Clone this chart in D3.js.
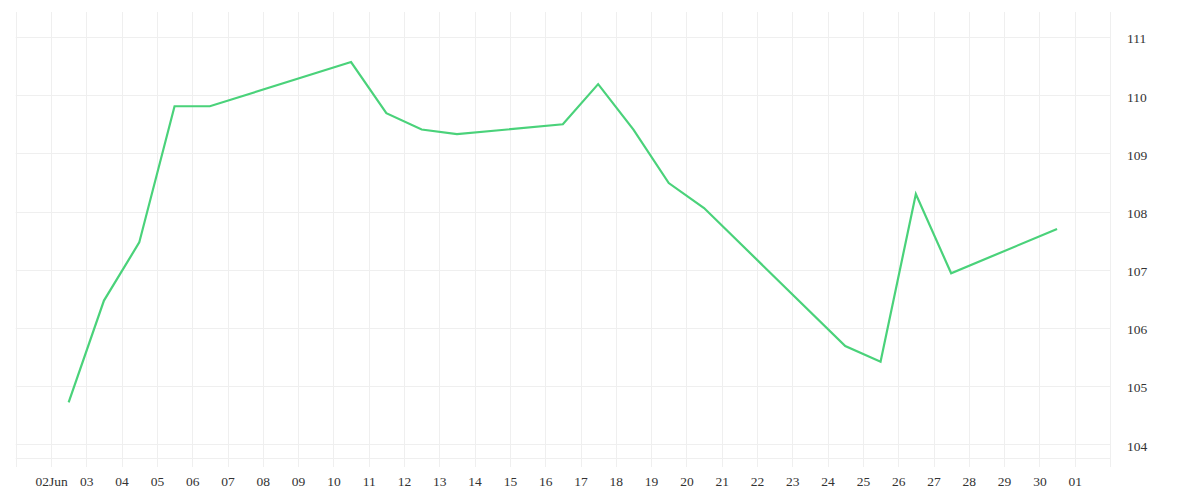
<!DOCTYPE html>
<html><head><meta charset="utf-8">
<script src="https://cdn.jsdelivr.net/npm/d3@7/dist/d3.min.js"></script>
<style>body{margin:0;background:#fff}svg{display:block}</style>
</head><body>
<svg id="c" width="1200" height="500"></svg>
<script>
const dates = ["2020-06-02T12:00","2020-06-03T12:00","2020-06-04T12:00","2020-06-05T12:00","2020-06-06T12:00",
  "2020-06-10T12:00","2020-06-11T12:00","2020-06-12T12:00","2020-06-13T12:00","2020-06-16T12:00",
  "2020-06-17T12:00","2020-06-18T12:00","2020-06-19T12:00","2020-06-20T12:00","2020-06-24T12:00",
  "2020-06-25T12:00","2020-06-26T12:00","2020-06-27T12:00","2020-06-30T12:00"];
const values = [104.72,106.47,107.47,109.81,109.81,110.57,109.69,109.41,109.33,109.50,
  110.19,109.41,108.49,108.06,105.69,105.42,108.30,106.94,107.70];
const yTicks = [104,105,106,107,108,109,110,111];

const parse = d3.isoParse;
const svg = d3.select("#c");
const L = 15.7, R = 1110, T = 12, B = 467;
const x = d3.scaleTime().domain([new Date(2020,5,1), new Date(2020,6,2)]).range([L, R]);
const y = d3.scaleLinear().domain([103.61, 111.43]).range([B, T]);

const grid = "#efefef";
const days = d3.timeDay.range(new Date(2020,5,1), new Date(2020,6,2,1));
svg.append("g").selectAll("line").data(days).join("line")
  .attr("x1", d => Math.round(x(d)) + 0.5).attr("x2", d => Math.round(x(d)) + 0.5)
  .attr("y1", T).attr("y2", B).attr("stroke", grid);
svg.append("g").selectAll("line").data(yTicks).join("line")
  .attr("x1", L).attr("x2", R)
  .attr("y1", d => Math.round(y(d)) + 0.5).attr("y2", d => Math.round(y(d)) + 0.5)
  .attr("stroke", grid);
svg.append("line").attr("x1", L).attr("x2", R).attr("y1", 458.5).attr("y2", 458.5).attr("stroke", grid);

const font = "'Liberation Serif', serif";
const xTicks = d3.timeDay.range(new Date(2020,5,2), new Date(2020,6,1,1));
const fmt = d => d.getDate() === 2 && d.getMonth() === 5 ? d3.timeFormat("%d%b")(d) : d3.timeFormat("%d")(d);
const xAxis = d3.axisBottom(x).tickValues(xTicks).tickFormat(fmt).tickSize(0).tickPadding(0);
const gx = svg.append("g").attr("transform", `translate(0,${B + 9})`).call(xAxis);
gx.select(".domain").remove();
gx.selectAll("text").attr("font-family", font).attr("font-size", 13.5).attr("fill", "#333");

const yAxis = d3.axisRight(y).tickValues(yTicks).tickFormat(d3.format("d")).tickSize(0).tickPadding(0);
const gy = svg.append("g").attr("transform", `translate(${R + 17},1.5)`).call(yAxis);
gy.select(".domain").remove();
gy.selectAll("text").attr("font-family", font).attr("font-size", 13.5).attr("fill", "#333");

const line = d3.line().x((d, i) => x(parse(dates[i]))).y(d => y(d));
svg.append("path").datum(values).attr("d", line)
  .attr("fill", "none").attr("stroke", "#4ad27a").attr("stroke-width", 2.2).attr("stroke-linejoin", "miter");
</script>
</body></html>
